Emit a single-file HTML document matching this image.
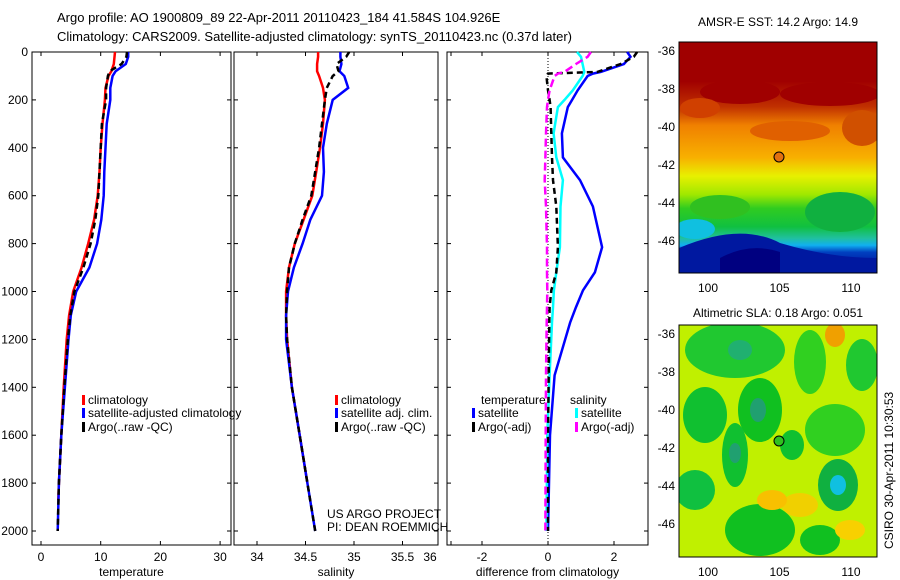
<!DOCTYPE html>
<html><head><meta charset="utf-8"><style>
body{margin:0;background:#fff;}
svg{display:block;font-family:"Liberation Sans",sans-serif;}
text{fill:#000;}
</style></head><body>
<svg id="fig" width="900" height="580" viewBox="0 0 900 580" xmlns="http://www.w3.org/2000/svg">
<defs>
<linearGradient id="sstg" x1="0" y1="0" x2="0" y2="1">
<stop offset="0" stop-color="#a00000"/><stop offset="0.17" stop-color="#a00000"/>
<stop offset="0.28" stop-color="#c03000"/><stop offset="0.36" stop-color="#f08000"/>
<stop offset="0.5" stop-color="#f8b000"/><stop offset="0.58" stop-color="#e8f000"/>
<stop offset="0.66" stop-color="#a0e800"/><stop offset="0.72" stop-color="#30cc20"/>
<stop offset="0.8" stop-color="#10c040"/><stop offset="0.85" stop-color="#20c0a0"/>
<stop offset="0.88" stop-color="#10b0f0"/><stop offset="0.91" stop-color="#0040c0"/>
<stop offset="1" stop-color="#000090"/>
</linearGradient>
<clipPath id="c1"><rect x="679" y="42" width="198" height="231"/></clipPath>
<clipPath id="c2"><rect x="679" y="325" width="198" height="232"/></clipPath>
</defs>
<text x="57" y="22" font-size="13">Argo profile: AO 1900809_89 22-Apr-2011 20110423_184 41.584S 104.926E</text>
<text x="57" y="41" font-size="13">Climatology: CARS2009. Satellite-adjusted climatology: synTS_20110423.nc (0.37d later)</text>
<g id="axes"></g>
<g id="series"></g>

<g>
<text x="778" y="26" font-size="12" text-anchor="middle">AMSR-E SST: 14.2 Argo: 14.9</text>
<g clip-path="url(#c1)">
<rect x="679" y="42" width="198" height="231" fill="url(#sstg)"/>
<ellipse cx="740" cy="92" rx="40" ry="12" fill="#a00000"/>
<ellipse cx="830" cy="94" rx="50" ry="12" fill="#a00000"/>
<ellipse cx="700" cy="108" rx="20" ry="10" fill="#d04000"/>
<ellipse cx="862" cy="128" rx="20" ry="18" fill="#d05000"/>
<ellipse cx="790" cy="131" rx="40" ry="10" fill="#e06000"/>
<ellipse cx="840" cy="212" rx="35" ry="20" fill="#10b040"/>
<ellipse cx="720" cy="207" rx="30" ry="12" fill="#30c020"/>
<ellipse cx="695" cy="229" rx="20" ry="10" fill="#10c0e0"/>
<path d="M679 248 Q740 222 780 243 Q830 258 877 258 L877 273 L679 273Z" fill="#0018a0"/>
<path d="M720 258 Q750 242 780 252 L780 273 L720 273Z" fill="#000080"/>
</g>
<rect x="679" y="42" width="198" height="231" fill="none" stroke="#000"/>
<circle cx="779" cy="157" r="5" fill="#e07010" stroke="#000"/>
</g>

<g>
<text x="778" y="317" font-size="12" text-anchor="middle">Altimetric SLA: 0.18 Argo: 0.051</text>
<g clip-path="url(#c2)">
<rect x="679" y="325" width="198" height="232" fill="#c0f000"/>
<ellipse cx="735" cy="350" rx="50" ry="28" fill="#20c830"/>
<ellipse cx="740" cy="350" rx="12" ry="10" fill="#20b070"/>
<ellipse cx="705" cy="415" rx="22" ry="28" fill="#10c030"/>
<ellipse cx="760" cy="410" rx="22" ry="32" fill="#10c020"/>
<ellipse cx="758" cy="410" rx="8" ry="12" fill="#20a070"/>
<ellipse cx="735" cy="455" rx="13" ry="32" fill="#10c030"/>
<ellipse cx="735" cy="453" rx="6" ry="10" fill="#20a070"/>
<ellipse cx="810" cy="362" rx="16" ry="32" fill="#30d020"/>
<ellipse cx="835" cy="430" rx="30" ry="26" fill="#30d020"/>
<ellipse cx="862" cy="365" rx="16" ry="26" fill="#20c830"/>
<ellipse cx="792" cy="445" rx="12" ry="15" fill="#10c030"/>
<ellipse cx="838" cy="485" rx="20" ry="26" fill="#10b040"/>
<ellipse cx="838" cy="485" rx="8" ry="10" fill="#10c0e0"/>
<ellipse cx="695" cy="490" rx="20" ry="20" fill="#10c040"/>
<ellipse cx="760" cy="530" rx="35" ry="26" fill="#10c020"/>
<ellipse cx="820" cy="540" rx="20" ry="15" fill="#10c020"/>
<ellipse cx="800" cy="505" rx="18" ry="12" fill="#f0d000"/>
<ellipse cx="772" cy="500" rx="15" ry="10" fill="#f8c000"/>
<ellipse cx="835" cy="335" rx="10" ry="12" fill="#f0a000"/>
<ellipse cx="850" cy="530" rx="15" ry="10" fill="#f8d000"/>
</g>
<rect x="679" y="325" width="198" height="232" fill="none" stroke="#000"/>
<circle cx="779" cy="441" r="5" fill="#30c020" stroke="#000"/>
</g>
<text transform="translate(893,549) rotate(-90)" font-size="12">CSIRO 30-Apr-2011 10:30:53</text>
</svg>
<script>
var tDepths = [0,50,80,100,150,200,300,400,500,600,700,800,900,1000,1100,1200,1400,1600,1800,1870];
var tClim = [12.4,12.2,11.8,11.3,10.8,10.7,10.3,10.0,9.8,9.5,8.9,7.9,6.8,5.4,4.7,4.3,3.8,3.4,3.0,2.9];
var sDepthsFull = [0,20,50,80,100,150,200,300,400,500,600,700,800,900,1000,1100,1200,1400,1600,1800,2000];
var tSat = [14.6,14.6,14.2,12.5,12.0,11.6,11.6,11.0,10.8,10.6,10.5,10.1,9.4,8.1,5.9,5.0,4.6,4.0,3.4,3.0,2.8];
var tArgo = [14.4,14.3,13.5,11.5,11.2,10.9,10.9,10.2,10.0,9.8,9.6,9.1,8.3,7.1,5.6,4.9,4.5,3.9,3.4,3.0,2.8];
var sClim = [34.63,34.63,34.62,34.62,34.64,34.68,34.70,34.68,34.65,34.61,34.57,34.48,34.39,34.33,34.30,34.30,34.31,34.36,34.44,34.52,34.60];
var sSat = [34.86,34.86,34.87,34.85,34.90,34.94,34.78,34.72,34.68,34.69,34.67,34.55,34.47,34.38,34.32,34.30,34.30,34.36,34.44,34.52,34.60];
var sArgo = [34.95,34.92,34.82,34.84,34.78,34.72,34.70,34.67,34.64,34.60,34.56,34.47,34.39,34.33,34.31,34.30,34.31,34.36,34.44,34.52,34.60];
var dDepths = [0,20,50,83,90,100,160,200,230,340,440,535,645,815,920,995,1065,1130,1350,1600,2000];
var dTSat = [2.4,2.5,2.3,1.6,1.36,1.2,0.9,0.73,0.6,0.42,0.45,0.97,1.36,1.64,1.42,1.06,0.85,0.67,0.2,0.06,0.0];
var dSSat = [0.88,1.0,1.05,1.1,1.08,1.05,0.75,0.5,0.3,0.17,0.25,0.45,0.38,0.36,0.25,0.18,0.15,0.12,0.05,-0.02,-0.05];
var dTArgo = [2.7,2.6,2.2,1.5,0.0,-0.05,0.0,0.05,0.08,0.1,0.12,0.15,0.25,0.3,0.25,0.1,0.05,0.04,0.02,0.0,0.0];
var dSArgo = [1.3,1.2,0.85,0.5,0.3,0.2,0.05,0.0,-0.03,-0.06,-0.08,-0.1,-0.06,-0.03,-0.03,-0.02,-0.03,-0.04,-0.06,-0.07,-0.08];
var depthTicks = [0,200,400,600,800,1000,1200,1400,1600,1800,2000];
var tTicks = [0,10,20,30];
var sTicks = [34,34.5,35,35.5,36];
var dTicks = [-2,0,2];
var latTicks = [-36,-38,-40,-42,-44,-46];
var lonTicks = [100,105,110];

var NS='http://www.w3.org/2000/svg';
var axesG=document.getElementById('axes'), serG=document.getElementById('series');
function el(tag,attrs,parent){var e=document.createElementNS(NS,tag);for(var k in attrs)e.setAttribute(k,attrs[k]);(parent||axesG).appendChild(e);return e;}
function yD(d){return 52+d*0.2395;}
var panels=[
 {x0:32,x1:231,f:function(v){return 41+5.97*v;},ticks:tTicks,lab:'temperature',name:'temperature'},
 {x0:234,x1:438,f:function(v){return 257+97*(v-34);},ticks:sTicks,lab:'salinity',name:'salinity'},
 {x0:447,x1:648,f:function(v){return 548+33*v;},ticks:dTicks,lab:'difference from climatology',name:'difference'}
];
panels.forEach(function(p,i){
 var r=el('rect',{x:p.x0,y:52,width:p.x1-p.x0,height:493,fill:'none',stroke:'#000'});
 
 
 depthTicks.forEach(function(d){
  el('line',{x1:p.x0,x2:p.x0+4,y1:yD(d),y2:yD(d),stroke:'#000'});
  el('line',{x1:p.x1,x2:p.x1-4,y1:yD(d),y2:yD(d),stroke:'#000'});
  if(i==0){var t=el('text',{x:28,y:yD(d)+4,'font-size':12,'text-anchor':'end'});t.textContent=d;
   
   }
 });
 p.ticks.forEach(function(v){
  var x=p.f(v);
  el('line',{x1:x,x2:x,y1:52,y2:56,stroke:'#000'});
  el('line',{x1:x,x2:x,y1:545,y2:541,stroke:'#000'});
  var tx=x; if(i==1&&v==36)tx=430;
  var t=el('text',{x:tx,y:561,'font-size':12,'text-anchor':'middle'});t.textContent=v;
  
  
 });
 var l=el('text',{x:(p.x0+p.x1)/2,y:576,'font-size':12,'text-anchor':'middle'});l.textContent=p.lab;
 
 
});
el('line',{x1:548,x2:548,y1:52,y2:545,stroke:'#000','stroke-dasharray':'1,2'});
[[42,273,51],[325,557,334]].forEach(function(m){
 latTicks.forEach(function(v){
  var y=m[2]+(-36-v)*19;
  el('line',{x1:679,x2:683,y1:y,y2:y,stroke:'#000'});
  el('line',{x1:877,x2:873,y1:y,y2:y,stroke:'#000'});
  var t=el('text',{x:675,y:y+4,'font-size':12,'text-anchor':'end'});t.textContent=v;
  
  
 });
 lonTicks.forEach(function(v){
  var x=708+(v-100)*14.3;
  el('line',{x1:x,x2:x,y1:m[1],y2:m[1]-4,stroke:'#000'});
  el('line',{x1:x,x2:x,y1:m[0],y2:m[0]+4,stroke:'#000'});
  var t=el('text',{x:x,y:m[1]+19,'font-size':12,'text-anchor':'middle'});t.textContent=v;
  
  
 });
});
function line(depths,vals,f,color,dash,name){
 var d='';for(var i=0;i<vals.length;i++){d+=(i?'L':'M')+f(vals[i]).toFixed(1)+' '+yD(depths[i]).toFixed(1);}
 var p=el('path',{d:d,fill:'none',stroke:color,'stroke-width':2.5,'stroke-dasharray':dash||'none'},serG);
 
 
}
var P=panels;
line(tDepths,tClim,P[0].f,'#f00','', 'temperature-climatology-line');
line(sDepthsFull,tSat,P[0].f,'#00f','', 'temperature-satellite-line');
line(sDepthsFull,tArgo,P[0].f,'#000','6,4','temperature-argo-line');
line(sDepthsFull.slice(0,20),sClim.slice(0,20),P[1].f,'#f00','', 'salinity-climatology-line');
line(sDepthsFull,sSat,P[1].f,'#00f','', 'salinity-satellite-line');
line(sDepthsFull,sArgo,P[1].f,'#000','6,4','salinity-argo-line');
line(dDepths,dTSat,P[2].f,'#00f','', 'diff-temperature-satellite-line');
line(dDepths,dSSat,P[2].f,'#0ff','', 'diff-salinity-satellite-line');
line(dDepths,dTArgo,P[2].f,'#000','6,4','diff-temperature-argo-line');
line(dDepths,dSArgo,P[2].f,'#f0f','8,4','diff-salinity-argo-line');
function leg(x,y,color,text,name){
 el('rect',{x:x,y:y-9,width:3,height:10,fill:color},serG);
 var t=el('text',{x:x+6,y:y,'font-size':12},serG);t.textContent=text;
 
 
}
leg(82,404,'#f00','climatology','legend-climatology');
leg(82,417,'#00f','satellite-adjusted climatology','legend-satellite');
leg(82,431,'#000','Argo(..raw -QC)','legend-argo');
leg(335,404,'#f00','climatology','legend-sal-climatology');
leg(335,417,'#00f','satellite adj. clim.','legend-sal-satellite');
leg(335,431,'#000','Argo(..raw -QC)','legend-sal-argo');
var t1=el('text',{x:481,y:404,'font-size':12},serG);t1.textContent='temperature';


var t2=el('text',{x:570,y:404,'font-size':12},serG);t2.textContent='salinity';


leg(472,417,'#00f','satellite','legend-diff-temp-satellite');
leg(472,431,'#000','Argo(-adj)','legend-diff-temp-argo');
leg(575,417,'#0ff','satellite','legend-diff-sal-satellite');
leg(575,431,'#f0f','Argo(-adj)','legend-diff-sal-argo');
var c1=el('text',{x:327,y:518,'font-size':12},serG);c1.textContent='US ARGO PROJECT';


var c2=el('text',{x:327,y:531,'font-size':12},serG);c2.textContent='PI: DEAN ROEMMICH';


</script>
</body></html>
